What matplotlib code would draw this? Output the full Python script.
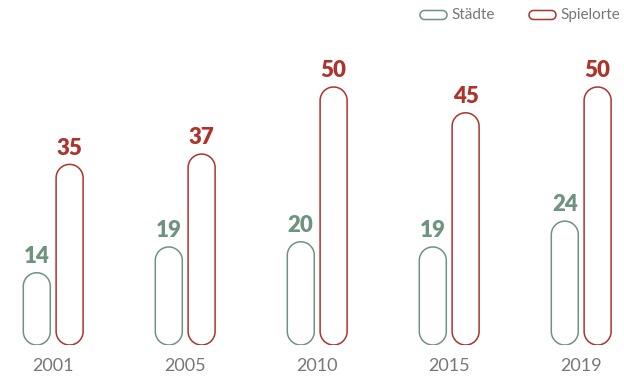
import matplotlib
matplotlib.use("Agg")
import matplotlib.pyplot as plt
import numpy as np
from matplotlib.patches import Polygon

years = ["2001", "2005", "2010", "2015", "2019"]
staedte = [14, 19, 20, 19, 24]
spielorte = [35, 37, 50, 45, 50]

GREEN = "#6e9480"
RED = "#ad332c"
GREY = "#777777"

W, H = 624, 377
fig = plt.figure(figsize=(W / 100, H / 100), dpi=100)

# axes in pixel-like layout: baseline 32 px above the bottom edge
px_x = 132.0   # pixels per category step
px_y = 5.16    # pixels per value unit
x0 = 53.2      # pixel position of the first group
ax = fig.add_axes([0, 32 / H, 1, (H - 32) / H])
ax.set_xlim(-x0 / px_x, (W - x0) / px_x)
ax.set_ylim(0, (H - 32) / px_y)
ax.axis("off")

bar_w = 27 / px_x
offset = 16.4 / px_x


def pill_points(x, y0, y1, rx, ry, n=40):
    # capsule outline: semicircle on top, semicircle at the bottom
    t_top = np.linspace(0, np.pi, n)
    t_bot = np.linspace(np.pi, 2 * np.pi, n)
    top = np.c_[x + rx * np.cos(t_top), y1 - ry + ry * np.sin(t_top)]
    bot = np.c_[x + rx * np.cos(t_bot), y0 + ry + ry * np.sin(t_bot)]
    return np.vstack([top, bot])


def pill(x, val, color):
    rx = bar_w / 2
    ry = 13.5 / px_y
    ax.add_patch(Polygon(pill_points(x, 0, val, rx, ry), closed=True,
                         facecolor="white", edgecolor=color, linewidth=1.1))
    ax.text(x, val + 1.1, str(val), ha="center", va="bottom",
            fontsize=16, fontweight="heavy", color=color, family="Lato")


for i, y in enumerate(years):
    pill(i - offset, staedte[i], GREEN)
    pill(i + offset, spielorte[i], RED)
    ax.text(i, -4.0, y, ha="center", va="center", fontsize=13,
            color=GREY, family="Lato")


# legend, laid out in figure pixels
def legend_item(px, label, color):
    lw_px, lh_px = 27, 9
    ly = H - 15
    pts = pill_points(ly, px, px + lw_px, lh_px / 2, lh_px / 2)[:, ::-1]
    pts = pts / [W, H]
    fig.add_artist(Polygon(pts, closed=True, transform=fig.transFigure,
                           facecolor="white", edgecolor=color, linewidth=1.1))
    fig.text((px + lw_px + 4) / W, ly / H, label, ha="left", va="center",
             fontsize=11, color=GREY, family="Lato")


legend_item(420, "Städte", GREEN)
legend_item(529, "Spielorte", RED)

fig.savefig("out.png", dpi=100)
